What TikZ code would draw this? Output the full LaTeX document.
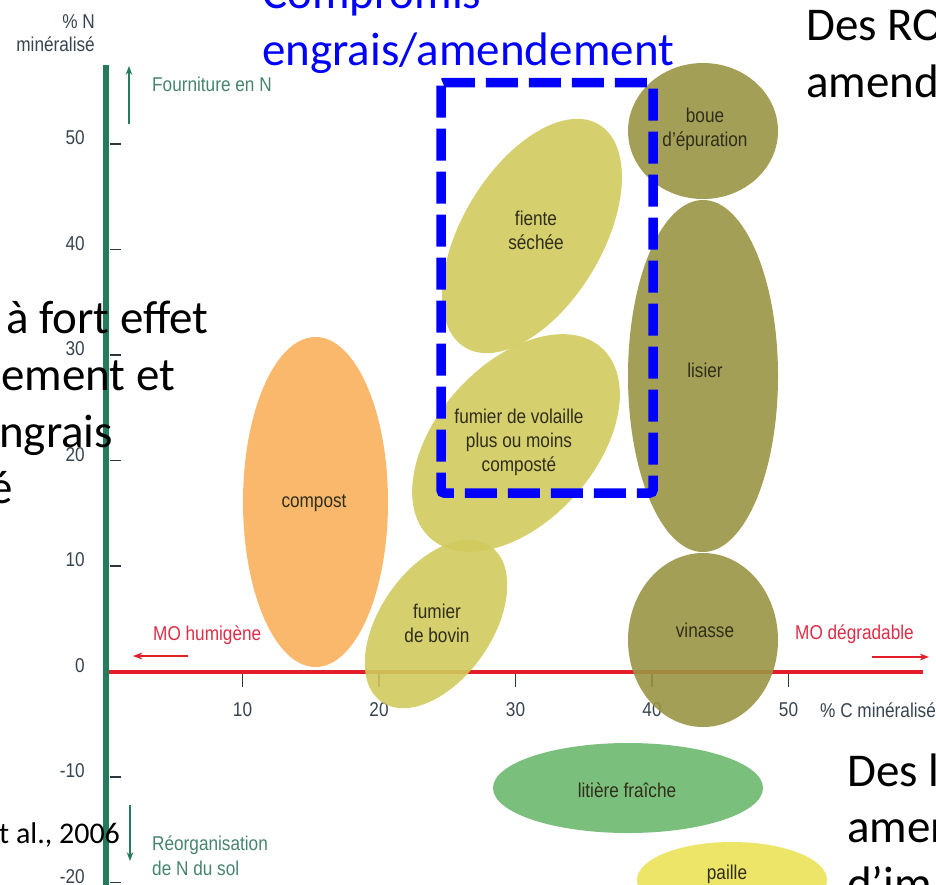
\documentclass[tikz,border=0pt]{standalone}
\usepackage{fontspec}
\setmainfont{Carlito}
\newfontfamily\condfont[FakeStretch=0.86]{Liberation Sans}
\usetikzlibrary{arrows.meta}

\definecolor{axegreen}{RGB}{36,124,92}
\definecolor{txtgreen}{RGB}{70,132,112}
\definecolor{axered}{RGB}{226,30,40}
\definecolor{txtred}{RGB}{222,45,70}
\definecolor{ticktxt}{RGB}{55,68,80}
\definecolor{compostcol}{RGB}{249,176,92}
\definecolor{volaillecol}{RGB}{208,202,94}
\definecolor{olivecol}{RGB}{154,149,68}
\definecolor{litierecol}{RGB}{108,184,110}
\definecolor{paillecol}{RGB}{234,226,88}
\definecolor{etiq}{RGB}{48,46,26}

\begin{document}
\begin{tikzpicture}[x=1pt, y=-1pt, >=Stealth,
    lbl/.style={font=\condfont\fontsize{20}{24}\selectfont, text=etiq, align=center, inner sep=0pt},
    ticklbl/.style={font=\condfont\fontsize{20}{23}\selectfont, text=ticktxt, inner sep=0pt},
    axetxt/.style={font=\condfont\fontsize{20}{25}\selectfont, inner sep=0pt, align=left},
    bigtxt/.style={font=\fontsize{47}{57}\selectfont, inner sep=0pt, anchor=base west},
    blob/.style={fill opacity=0.9}]

    \useasboundingbox (0,0) rectangle (936,884);
    \clip (0,0) rectangle (936,884);

    % Echelles
    \def\Xo{106}      % origine en x
    \def\Yo{671.5}    % origine en y
    \def\Dx{13.65}    % px par % C
    \def\Dy{10.55}    % px par % N

    % Graduations de l'axe des C
    \foreach \v in {10,20,30,40,50} {
        \pgfmathsetmacro{\xx}{\Xo+\Dx*\v}
        \draw[ticktxt!80!black, line width=1.6] (\xx,674) -- (\xx,687);
        \node[ticklbl] (xt\v) at (\xx,710) {\v};
    }
    \node[ticklbl, anchor=west] (cmin) at (820,710) {\% C minéralisé};

    % Axe des C
    \draw[axered, line width=4] (108,\Yo) -- (923,\Yo);
    \coordinate (humA) at (188,656);
    \coordinate (humB) at (133,656);
    \draw[axered, line width=1.4, ->] (humA) -- (humB);
    \coordinate (degA) at (872,657);
    \coordinate (degB) at (929,657);
    \draw[axered, line width=1.4, ->] (degA) -- (degB);
    \node[axetxt, text=txtred, anchor=west] (humig) at (153,635) {MO humigène};
    \node[axetxt, text=txtred, anchor=west] (degrad) at (795,634) {MO dégradable};

    % Produits organiques
    \fill[compostcol, blob] (315.5,502) ellipse [x radius=72.5, y radius=165];
    \fill[volaillecol, blob, shift={(436,624)}, rotate=55] (0,0) ellipse [x radius=95, y radius=56];
    \fill[volaillecol, blob, shift={(516,443)}, rotate=48] (0,0) ellipse [x radius=128, y radius=79];
    \fill[volaillecol, blob, shift={(532,236)}, rotate=59] (0,0) ellipse [x radius=130, y radius=70];
    \fill[olivecol, blob] (703,131) ellipse [x radius=75, y radius=68];
    \fill[olivecol, blob] (703,376) ellipse [x radius=75, y radius=176];
    \fill[olivecol, blob] (703,640) ellipse [x radius=75, y radius=87];
    \fill[litierecol, blob] (628,788) ellipse [x radius=135, y radius=45];
    \fill[paillecol, blob] (732,880) ellipse [x radius=95, y radius=38];

    \node[lbl] (compost) at (314,503) {compost};
    \node[lbl] (bovin) at (437,623) {fumier\\de bovin};
    \node[lbl] (volaille) at (519,442) {fumier de volaille\\plus ou moins\\composté};
    \node[lbl] (fiente) at (536,230) {fiente\\séchée};
    \node[lbl] (boue) at (705,129) {boue\\d’épuration};
    \node[lbl] (lisier) at (705,370) {lisier};
    \node[lbl] (vinasse) at (705,630) {vinasse};
    \node[lbl] (litiere) at (627,790) {litière fraîche};
    \node[lbl] (paille) at (727,874) {paille};

    % Axe des N
    \draw[axegreen, line width=6] (106,65) -- (106,890);
    \foreach \v in {-20,-10,0,10,20,30,40,50} {
        \pgfmathsetmacro{\yy}{\Yo-\Dy*\v}
        \ifnum\v=0\else
            \draw[ticktxt!80!black, line width=1.4] (110,\yy) -- (121,\yy);
        \fi
        \node[ticklbl, anchor=east] (yt\v) at (85,\yy-6) {\v};
    }
    \node[ticklbl, anchor=east, align=right] (nmin) at (95,33) {\% N\\minéralisé};

    \coordinate (fourA) at (129,124);
    \coordinate (fourB) at (129,66);
    \draw[axegreen, line width=1.3, ->] (fourA) -- (fourB);
    \node[axetxt, text=txtgreen, anchor=west] (fourn) at (152,84) {Fourniture en N};
    \coordinate (reoA) at (130,805);
    \coordinate (reoB) at (130,861);
    \draw[axegreen, line width=1.3, ->] (reoA) -- (reoB);
    \node[axetxt, text=txtgreen, anchor=west] (reorg) at (152,856) {Réorganisation\\de N du sol};

    % Cadre compromis
    \draw[blue, line width=9.5, dash pattern=on 32 off 11, rounded corners=3] (441,82.5) rectangle (653,493);
    \node[bigtxt, text=blue] (compro) at (262,8) {Compromis};
    \node[bigtxt, text=blue] (engam) at (262,65) {engrais/amendement};

    % Textes de la diapositive
    \node[bigtxt] (gauche1) at (6,333) {à fort effet};
    \node[bigtxt] (gauche2) at (1,390) {ement et};
    \node[bigtxt] (gauche3) at (-1,447) {ngrais};
    \node[bigtxt] (gauche4) at (-11,503) {é};
    \node[bigtxt, font=\fontsize{30}{36}\selectfont] (source) at (-1,843) {t al., 2006};
    \node[bigtxt] (droite1) at (806,40) {Des RO};
    \node[bigtxt] (droite2) at (806,97) {amendement};
    \node[bigtxt] (bas1) at (847,786) {Des l};
    \node[bigtxt] (bas2) at (847,842) {amen};
    \node[bigtxt] (bas3) at (847,899) {d’im};

\end{tikzpicture}
\end{document}
